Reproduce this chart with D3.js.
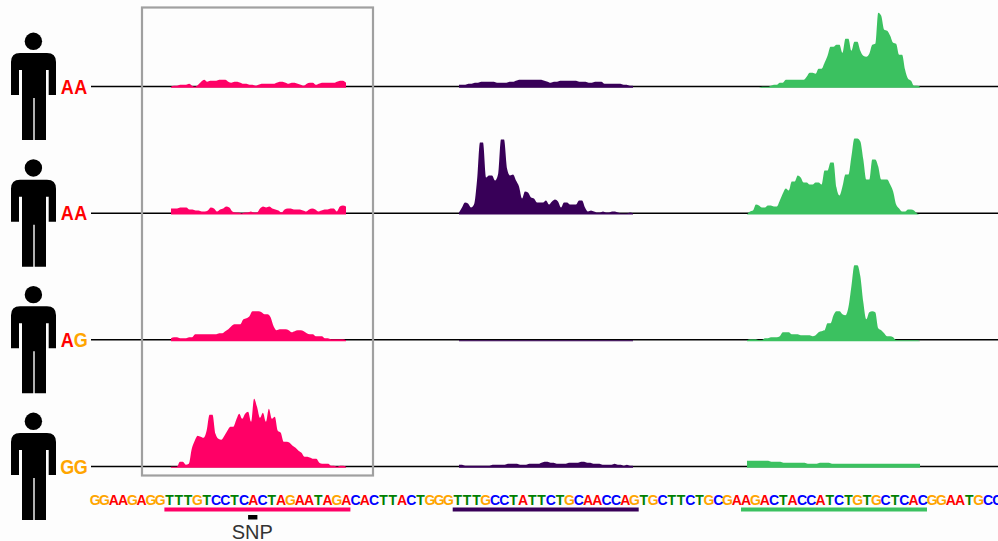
<!DOCTYPE html>
<html>
<head>
<meta charset="utf-8">
<script src="https://cdn.jsdelivr.net/npm/d3@7"></script>
<style>
  html, body { margin: 0; padding: 0; background: #fdfdfd; }
  svg { display: block; }
  text { font-family: "Liberation Sans", sans-serif; }
</style>
</head>
<body>
<div id="chart"></div>
<script>
// Data (signal height per bin)
const genotypes = ["AA", "AA", "AG", "GG"];
const sequence = "GGAAGAGGTTTGTCCTCACTAGAATAGACACTTACTGGGTTTGCCTATTCTGCAACCAGTGCTTCTGCGAAGACTACCATCTGTGCTCACGGAATGCC";
const guides = [[8, 28], [39, 59], [70, 90]];
const snpIndex = 17;

const pink1 = [1,2,2,3,3,3,4,2,1,3,6,8,6,7,7,7,8,8,8,6,5,6,6,5,4,4,3,3,2,3,4,4,4,4,4,5,6,6,5,4,5,5,4,3,2,4,5,5,3,4,5,5,5,5,5,6,7,7,5];
const pink2 = [6,6,6,7,7,7,5,5,4,4,3,3,4,7,6,3,5,6,8,7,3,2,2,1,2,2,3,2,2,6,8,7,8,6,5,4,2,5,6,6,5,5,5,4,3,5,6,5,3,4,5,5,6,6,3,8,9,8];
const pink3 = [3,4,4,3,3,3,4,4,7,7,7,7,7,7,7,7,8,8,10,12,15,17,17,17,22,23,25,30,30,30,29,27,27,24,15,11,12,12,12,11,9,10,11,11,10,8,7,7,5,5,5,3,3,2,2,2,2,2,1];
const pink4 = [1,1,1,6,6,3,4,19,27,32,31,30,37,53,53,34,29,28,32,37,41,41,48,54,49,54,56,46,69,61,50,55,46,59,49,51,37,35,26,26,25,22,20,17,15,11,11,10,9,9,5,4,4,4,2,2,1,2,2,1];

const purple1 = [3,3,3,4,4,5,5,6,6,6,6,6,5,5,5,5,6,6,7,8,8,8,8,8,8,8,8,7,6,5,6,6,7,7,7,7,7,7,6,6,6,5,5,6,6,6,4,4,4,4,4,4,3,3,2,2];
const purple2 = [2,7,12,11,7,10,34,72,72,37,39,39,34,40,75,75,46,39,40,34,28,16,23,22,17,16,12,12,12,14,10,13,15,13,7,12,12,10,10,10,14,14,7,3,4,3,2,2,3,2,2,3,3,2,1,1,1,2,1];
const purple3 = [1,1,1,1,1,1,1,1,1,1,1,1,1,1,1,1,1,1,1,1,1,1,1,1,1,1,1,1,1,1,1,1,1,1,1,1,1,1,1,1,1,1,1,1,1,1,1,1,1,1,1,1,1,1,1,1,1,1];
const purple4 = [3,3,2,2,2,2,2,2,2,2,2,3,3,3,3,3,4,4,4,4,3,3,3,4,4,4,4,5,6,6,5,5,4,4,4,4,5,5,5,5,6,6,5,5,4,4,4,3,3,3,3,4,3,3,2,3,2,2];

const green1 = [0,0,0,0,0,1,1,1,2,3,3,5,5,8,8,8,8,8,8,8,11,15,15,14,19,19,25,32,41,41,43,43,35,49,49,37,46,46,37,32,31,34,43,44,75,72,58,57,52,45,44,33,33,18,9,7,2,2,1];
const green2 = [0,3,4,10,9,7,7,9,9,8,8,14,21,26,24,33,33,39,37,32,32,30,30,32,32,30,44,44,52,52,27,19,28,40,40,58,76,76,73,55,35,35,55,55,48,35,35,35,30,23,10,6,3,3,5,5,4,1,0];
const green3 = [1,2,2,2,1,1,3,3,4,4,4,5,9,9,9,7,7,7,6,6,6,6,5,6,9,10,11,18,18,26,30,30,27,26,34,55,76,76,65,39,22,29,30,29,13,11,8,5,5,4,1,1,1,1,1,1,1,1,0];
const green4 = [7,7,7,7,7,7,7,7,6,6,6,6,5,5,5,5,5,5,5,5,4,4,4,4,5,5,5,5,4,4,4,4,4,4,4,4,4,4,4,4,4,4,4,4,4,4,4,4,4,4,4,4,4,4,4,4,4,4];

const pinkRows = [pink1, pink2, pink3, pink4];
const purpleRows = [purple1, purple2, purple3, purple4];
const greenRows = [green1, green2, green3, green4];

const colors = { pink: "#ff0066", purple: "#380058", green: "#3bc160" };
const baseColors = { A: "#ff0000", C: "#0000ff", G: "#ffa500", T: "#008000" };

// Set dimensions
const width = 998, height = 541;

const svg = d3.select("#chart")
  .append("svg")
    .attr("width", width)
    .attr("height", height);

// One row per person
const rowY = d3.scalePoint()
  .domain(d3.range(genotypes.length))
  .range([86.5, 466.5]);

// Signal height, drawn upward from the row's baseline
const y = d3.scaleLinear()
  .domain([0, 100])
  .range([1.3, -98.7]);

// The three tracks
const tracks = [
  { rows: pinkRows, color: colors.pink, start: 171, end: 346 },
  { rows: purpleRows, color: colors.purple, start: 459, end: 633 },
  { rows: greenRows, color: colors.green, start: 747, end: 920 }
];

// Baselines
svg.selectAll("line.baseline")
  .data(genotypes)
  .join("line")
    .attr("class", "baseline")
    .attr("x1", 91)
    .attr("x2", width)
    .attr("y1", (d, i) => rowY(i))
    .attr("y2", (d, i) => rowY(i))
    .attr("stroke", "#000")
    .attr("stroke-width", 1.5);

// Signal areas
tracks.forEach(track => {
  track.rows.forEach((values, i) => {
    const x = d3.scaleLinear()
      .domain([0, values.length - 1])
      .range([track.start, track.end]);
    const area = d3.area()
      .x((d, j) => x(j))
      .y0(y(0))
      .y1(d => y(d))
      .curve(d3.curveMonotoneX);
    svg.append("path")
      .datum(values)
      .attr("transform", `translate(0,${rowY(i)})`)
      .attr("fill", track.color)
      .attr("d", area);
  });
});

// Box round the SNP region
svg.append("rect")
  .attr("x", 142)
  .attr("y", 7.5)
  .attr("width", 231)
  .attr("height", 468)
  .attr("fill", "none")
  .attr("stroke", "#a0a0a0")
  .attr("stroke-width", 2.2);

// Person icon, one per row, then genotype letters
const person = "M11 95V62Q11 53 20 53H47Q56 53 56 62V95H48.7V70H46V140H34.7V98H33.3V140H22V70H19V95Z";
const people = svg.selectAll("g.person")
  .data(genotypes)
  .join("g")
    .attr("class", "person")
    .attr("transform", (d, i) => `translate(0,${rowY(i) - 86.5})`);
people.append("circle")
  .attr("cx", 33.4)
  .attr("cy", 41.3)
  .attr("r", 8.7);
people.append("path")
  .attr("d", person);

const letterX = d3.scaleBand()
  .domain([0, 1])
  .range([60.5, 87.5]);
people.selectAll("text")
  .data(d => d.split(""))
  .join("text")
    .attr("transform", (d, i) => `translate(${letterX(i) + letterX.bandwidth() / 2},93.5) scale(0.9,1)`)
    .attr("text-anchor", "middle")
    .attr("font-size", 20)
    .attr("font-weight", "bold")
    .attr("fill", d => baseColors[d])
    .text(d => d);

// Sequence along the bottom
const seqX = d3.scaleBand()
  .domain(d3.range(sequence.length))
  .range([90, 90 + 9.3 * sequence.length]);
svg.selectAll("text.base")
  .data(sequence.split(""))
  .join("text")
    .attr("class", "base")
    .attr("x", (d, i) => seqX(i) + seqX.bandwidth() / 2 + 0.5)
    .attr("y", 504.5)
    .attr("text-anchor", "middle")
    .attr("font-size", 14)
    .attr("font-weight", "bold")
    .attr("fill", d => baseColors[d])
    .text(d => d);

// Guide underlines
svg.selectAll("rect.guide")
  .data(guides)
  .join("rect")
    .attr("class", "guide")
    .attr("x", d => seqX(d[0]))
    .attr("y", 507.5)
    .attr("width", d => seqX(d[1]) - seqX(d[0]))
    .attr("height", 4)
    .attr("fill", (d, i) => tracks[i].color);

// SNP marker
svg.append("rect")
  .attr("x", seqX(snpIndex))
  .attr("y", 515)
  .attr("width", seqX.bandwidth())
  .attr("height", 4.5)
  .attr("fill", "#000");
svg.append("text")
  .attr("x", seqX(snpIndex) + seqX.bandwidth() / 2 - 0.5)
  .attr("y", 539)
  .attr("text-anchor", "middle")
  .attr("font-size", 20)
  .attr("fill", "#333")
  .text("SNP");
</script>
</body>
</html>
